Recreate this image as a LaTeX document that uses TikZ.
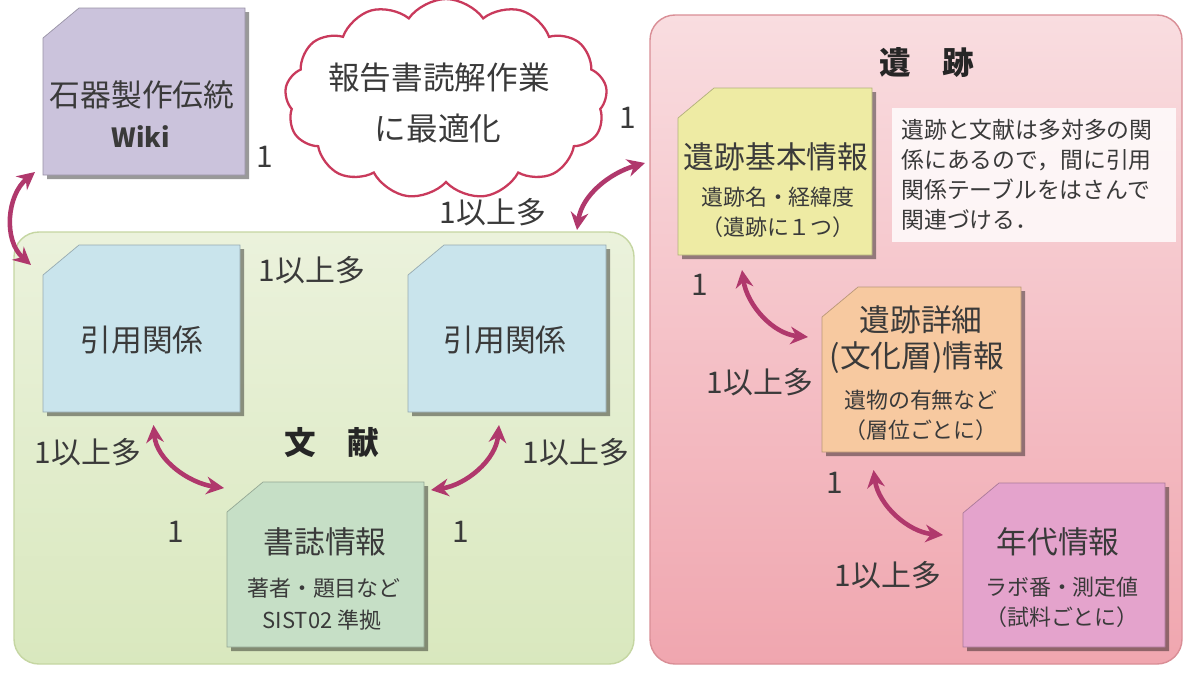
\documentclass[tikz,border=0pt]{standalone}
\usepackage{fontspec}
\setmainfont{Noto Sans CJK JP}
\usetikzlibrary{fit,arrows.meta,shapes.symbols}
\definecolor{txt}{HTML}{3A3A3A}
\definecolor{arrc}{HTML}{B0386C}
\definecolor{cloudc}{HTML}{C93A5C}
\definecolor{wikic}{HTML}{CBC3DC}
\definecolor{citec}{HTML}{C9E4EC}
\definecolor{bibc}{HTML}{C6DFC6}
\definecolor{sitec}{HTML}{EEEBA4}
\definecolor{detc}{HTML}{F7C9A0}
\definecolor{agec}{HTML}{E4A3CC}
\definecolor{greentop}{HTML}{EBF2DC}
\definecolor{greenbot}{HTML}{D9E8BE}
\definecolor{greenb}{HTML}{C5D6A2}
\definecolor{pinktop}{HTML}{F9DDE0}
\definecolor{pinkbot}{HTML}{F0A6AF}
\definecolor{pinkb}{HTML}{D98E96}
\newcommand\tagbox[2]{%
 \fill[black,opacity=.4] ([shift={(4,34)}]#1.north west) -- ([shift={(40,4)}]#1.north west) -- ([shift={(4,4)}]#1.north east) -- ([shift={(4,4)}]#1.south east) -- ([shift={(4,4)}]#1.south west) -- cycle;
 \fill[#2, draw=#2!75!black, line width=.4pt] ([shift={(0,30)}]#1.north west) -- ([shift={(36,0)}]#1.north west) -- (#1.north east) -- (#1.south east) -- (#1.south west) -- cycle;
}
\tikzset{
 ttl/.style={font=\fontsize{17.5}{20}\selectfont, text=txt, inner sep=0},
 sml/.style={font=\fontsize{12.5}{15}\selectfont, text=txt, inner sep=0},
 num/.style={font=\fontsize{17}{20}\selectfont, text=txt, inner sep=0},
 hdr/.style={font=\fontsize{18}{20}\selectfont\bfseries, text=black!85, inner sep=0},
 holder/.style={inner sep=0, outer sep=0},
 rel/.style={draw=arrc, line width=2.6pt, {Stealth[length=10pt,width=10pt]}-{Stealth[length=10pt,width=10pt]}},
}
\begin{document}
\begin{tikzpicture}[x=0.02cm,y=-0.02cm]
\useasboundingbox[fill=white] (0,0) rectangle (1189,673);
% containers
\node[fit={(14,232) (634,664)}, holder, rounded corners=0.5cm, draw=greenb, line width=0.8pt, top color=greentop, bottom color=greenbot] (bunken) {};
\node[fit={(650,15) (1182,664)}, holder, rounded corners=0.5cm, draw=pinkb, line width=0.8pt, top color=pinktop, bottom color=pinkbot] (iseki) {};
% cloud
\node[cloud, cloud puffs=13, cloud puff arc=110, aspect=1.75, draw=cloudc, line width=1.3pt, fill=white, minimum width=6.45cm, minimum height=4.0cm] (cloud) at (446,99) {};
% box holders
\node[fit={(43,8) (245,175)}, holder] (wiki) {};
\node[fit={(43,245) (240,412)}, holder] (cite1) {};
\node[fit={(408,245) (606,412)}, holder] (cite2) {};
\node[fit={(227,482) (424,647)}, holder] (bib) {};
\node[fit={(678,88) (872,255)}, holder] (site) {};
\node[fit={(822,287) (1021,452)}, holder] (det) {};
\node[fit={(963,483) (1165,647)}, holder] (age) {};
\tagbox{wiki}{wikic}
\tagbox{cite1}{citec}
\tagbox{cite2}{citec}
\tagbox{bib}{bibc}
\tagbox{site}{sitec}
\tagbox{det}{detc}
\tagbox{age}{agec}
% note
\node[fit={(892,108) (1176,242)}, holder, fill=white, fill opacity=.8] (notebox) {};
\node[sml, font=\fontsize{13}{17}\selectfont, align=left, anchor=west] (note) at (901,175) {遺跡と文献は多対多の関\\係にあるので，間に引用\\関係テーブルをはさんで\\関連づける．};
% texts
\node[ttl] (wikit1) at (142,95) {石器製作伝統};
\node[ttl, font=\fontsize{15}{18}\selectfont\bfseries] (wikit2) at (141,137) {Wiki};
\node[num] (n1a) at (265,157) {1};
\node[ttl, font=\fontsize{18}{20}\selectfont] (cl1) at (439,78) {報告書読解作業};
\node[ttl, font=\fontsize{18}{20}\selectfont] (cl2) at (438,128) {に最適化};
\node[num] (n1b) at (628,118) {1};
\node[num] (m1) at (493,212) {1以上多};
\node[ttl] (c1t) at (142,340) {引用関係};
\node[ttl] (c2t) at (505,340) {引用関係};
\node[num] (m2) at (312,270) {1以上多};
\node[hdr] (bunt) at (332,443) {文　献};
\node[num] (m3) at (88,452) {1以上多};
\node[num] (m4) at (576,452) {1以上多};
\node[ttl] (bt1) at (325,542) {書誌情報};
\node[sml] (bt2) at (324,588) {著者・題目など};
\node[sml] (bt3) at (322,620) {SIST02 準拠};
\node[num] (n1c) at (176,532) {1};
\node[num] (n1d) at (461,532) {1};
\node[hdr] (iset) at (927,63) {遺　跡};
\node[ttl] (st1) at (776,157) {遺跡基本情報};
\node[sml] (st2) at (778,197) {遺跡名・経緯度};
\node[sml] (st3) at (778,227) {（遺跡に１つ）};
\node[num] (n1e) at (700,285) {1};
\node[ttl] (dt1) at (921,320) {遺跡詳細};
\node[ttl] (dt2) at (917,358) {(文化層)情報};
\node[sml] (dt3) at (921,400) {遺物の有無など};
\node[sml] (dt4) at (921,430) {（層位ごとに）};
\node[num] (m5) at (760,382) {1以上多};
\node[num] (n1f) at (835,483) {1};
\node[ttl] (at1) at (1058,542) {年代情報};
\node[sml] (at2) at (1062,587) {ラボ番・測定値};
\node[sml] (at3) at (1062,617) {（試料ごとに）};
\node[num] (m6) at (888,575) {1以上多};
% connectors
\draw[rel] ([shift={(-8,-3)}]wiki.south west) .. controls +(-28,23) and +(-28,-25) .. ([shift={(-12,20)}]cite1.north west);
\draw[rel] ([shift={(12,13)}]cite1.south) .. controls +(3,35) and +(-35,-5) .. ([shift={(-3,6)}]bib.north west);
\draw[rel] ([shift={(-8,13)}]cite2.south) .. controls +(-3,35) and +(35,-5) .. ([shift={(7,8)}]bib.north east);
\draw[rel] ([shift={(-57,-2)}]bunken.north east) .. controls +(5,-35) and +(-35,10) .. ([shift={(-5,148)}]iseki.north west);
\draw[rel] ([shift={(-33,15)}]site.south) .. controls +(5,35) and +(-35,-3) .. ([shift={(-14,50)}]det.north west);
\draw[rel] ([shift={(-48,18)}]det.south) .. controls +(5,35) and +(-35,-3) .. ([shift={(-20,52)}]age.north west);
\end{tikzpicture}
\end{document}
